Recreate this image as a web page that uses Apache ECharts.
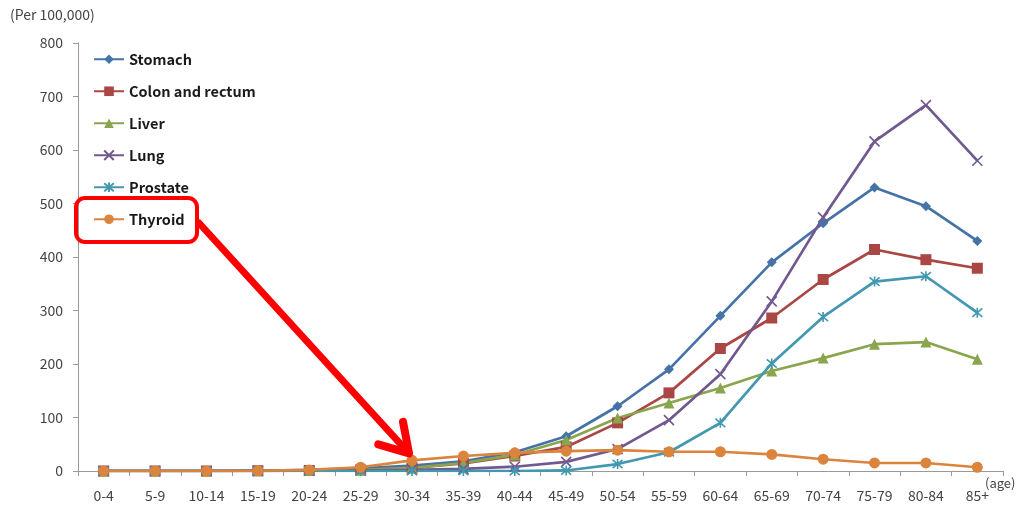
<!DOCTYPE html>
<html>
<head>
<meta charset="utf-8">
<script src="https://cdn.jsdelivr.net/npm/echarts@6/dist/echarts.min.js"></script>
<style>
html,body{margin:0;padding:0;background:#fff;}
#chart{width:1028px;height:511px;}
</style>
</head>
<body>
<div id="chart"></div>
<script>
const categories = ['0-4','5-9','10-14','15-19','20-24','25-29','30-34','35-39','40-44','45-49','50-54','55-59','60-64','65-69','70-74','75-79','80-84','85+'];
const stomach  = [0,0,0,0.5,2,5,10,18,35,65,121,190,290,390,463,530,495,430];
const colon    = [0,0,0,0.5,1,2,6,14,28,45,90,146,229,286,358,414,395,379];
const liver    = [0,0,0,0.3,1,2,6,15,30,58,99,127,155,187,211,237,241,209];
const lung     = [0,0,0,0.2,0.5,1,2,4,8,17,41,95,181,317,474,616,684,580];
const prostate = [0,0,0,0,0,0,0,0,0,1,13,35,90,201,288,354,364,296];
const thyroid  = [0,0,0,0.5,2,7,20,28,34,37,39,36,36,31,22,15,15,7];
const yTicks = [0,100,200,300,400,500,600,700,800];

const chart = echarts.init(document.getElementById('chart'));
const xPath = 'path://M0,0 L10,10 M10,0 L0,10';
const starPath = 'path://M0,0 L10,10 M10,0 L0,10 M5,-1 L5,11';
function mk(name, data, color, symbol, size, stroke){
  return {
    name, type:'line', data, symbol, symbolSize:size,
    lineStyle:{color, width:2.7},
    itemStyle:{color, borderColor:color, borderWidth: stroke ? 1.6 : 0},
    emphasis:{disabled:true}, animation:false, z:2
  };
}
const series = [
  mk('Stomach', stomach, '#4572A7', 'diamond', 10),
  mk('Colon and rectum', colon, '#AA4643', 'rect', 11),
  mk('Liver', liver, '#89A54E', 'triangle', 11),
  mk('Lung', lung, '#71588F', xPath, 10, true),
  mk('Prostate', prostate, '#4198AF', starPath, 10, true),
  mk('Thyroid', thyroid, '#DB843D', 'circle', 11)
];
series[5].z = 3;

const option = {
  animation:false,
  backgroundColor:'#fff',
  grid:{left:78, right:25, top:43, bottom:40},
  legend:{
    orient:'vertical', left:88, top:47, itemGap:17.5, itemWidth:30, itemHeight:12,
    textStyle:{fontSize:14.5, fontWeight:'bold', color:'#1a1a1a', fontFamily:'Noto Sans CJK KR'},
    data:series.map(s=>s.name)
  },
  xAxis:{
    type:'category', data:categories, boundaryGap:true,
    axisLine:{lineStyle:{color:'#999', width:1}},
    axisTick:{show:true, length:5, lineStyle:{color:'#999'}},
    axisLabel:{color:'#444', fontSize:14, margin:18, interval:0, fontFamily:'Noto Sans CJK KR'},
    splitLine:{show:false}
  },
  yAxis:{
    type:'value', min:yTicks[0], max:yTicks[yTicks.length-1], interval:yTicks[1]-yTicks[0],
    axisLine:{show:true, lineStyle:{color:'#999', width:1}},
    axisTick:{show:true, length:5, lineStyle:{color:'#999'}},
    axisLabel:{color:'#444', fontSize:14, margin:15, fontFamily:'Noto Sans CJK KR'},
    splitLine:{show:false}
  },
  series
};
chart.setOption(option);

// annotations: red rounded box around Thyroid legend, and arrow to Thyroid 30-34 point
const tip = chart.convertToPixel({gridIndex:0}, ['30-34', thyroid[6]]);
const tx = tip[0]-3, ty = tip[1]-7;
const sx = 199, sy = 223;
const ang = Math.atan2(ty-sy, tx-sx);
const hl = 32, hw = 0.55;
const w1 = [tx - hl*Math.cos(ang-hw), ty - hl*Math.sin(ang-hw)];
const w2 = [tx - hl*Math.cos(ang+hw), ty - hl*Math.sin(ang+hw)];
chart.setOption({
  graphic:[
    {type:'text', left:10, top:8, style:{text:'(Per 100,000)', fontSize:14, fill:'#444', fontFamily:'Noto Sans CJK KR'}},
    {type:'text', left:985, top:477, style:{text:'(age)', fontSize:13, fill:'#444', fontFamily:'Noto Sans CJK KR'}},
    {type:'rect', shape:{x:76, y:198, width:121, height:44, r:9}, style:{fill:'none', stroke:'#FF0000', lineWidth:4}, z:10},
    {type:'polyline', shape:{points:[[sx,sy],[tx-3*Math.cos(ang),ty-3*Math.sin(ang)]]}, style:{stroke:'#FF0000', lineWidth:7, lineCap:'round'}, z:10},
    {type:'polyline', shape:{points:[w1,[tx,ty],w2]}, style:{stroke:'#FF0000', fill:'none', lineWidth:8, lineCap:'round', lineJoin:'round'}, z:10}
  ]
});
</script>
</body>
</html>
